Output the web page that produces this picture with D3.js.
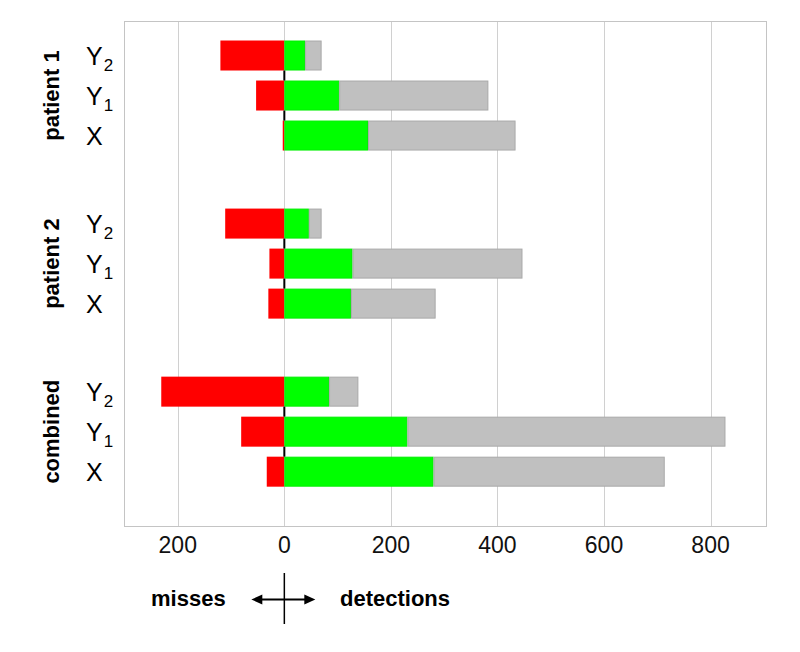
<!DOCTYPE html>
<html>
<head>
<meta charset="utf-8">
<script src="https://cdn.jsdelivr.net/npm/d3@7"></script>
<style>
  body { margin: 0; background: #fff; }
  text { font-family: "Liberation Sans", Arial, sans-serif; }
</style>
</head>
<body>
<svg id="chart" width="800" height="652"></svg>
<script>
// groups, top to bottom
var groups = ["patient 1", "patient 2", "combined"];
// rows inside each group: [letter, subscript]
var rows = [["Y", "2"], ["Y", "1"], ["X", ""]];

// values per group, in row order Y2, Y1, X
var misses   = [[120, 53, 3], [111, 28, 30], [231, 81, 33]];
var detected = [[39, 103, 157], [46, 128, 125], [84, 231, 280]];
var other    = [[31, 280, 277], [24, 319, 159], [55, 597, 434]];

var xTicks = [-200, 0, 200, 400, 600, 800];

var svg = d3.select('#chart');
var plotLeft = 124.5, plotRight = 766.5, plotTop = 21.5, plotBottom = 526.5;
var groupStep = 4.2; // rows + spacing between groups

var x = d3.scaleLinear().domain([-300, 905]).range([plotLeft, plotRight]);
var y = d3.scaleLinear().domain([-0.85, 11.77]).range([plotTop, plotBottom]);
var barH = 30;

var data = [];
groups.forEach(function(g, gi) {
  rows.forEach(function(r, ri) {
    data.push({
      group: gi, row: ri, slot: gi * groupStep + ri,
      miss: misses[gi][ri], detected: detected[gi][ri], other: other[gi][ri]
    });
  });
});

var stacked = d3.stack().keys(['detected', 'other'])(data);
var colors = { detected: '#00ff00', other: '#c0c0c0' };
var strokes = { detected: '#00ee00', other: '#a9a9a9' };

// grid lines
svg.append('g').selectAll('line').data(xTicks).join('line')
  .attr('x1', function(d) { return Math.round(x(d)) + 0.5; })
  .attr('x2', function(d) { return Math.round(x(d)) + 0.5; })
  .attr('y1', plotTop).attr('y2', plotBottom)
  .attr('stroke', '#d0d0d0').attr('stroke-width', 1);

// frame
svg.append('rect')
  .attr('x', plotLeft).attr('y', plotTop)
  .attr('width', plotRight - plotLeft).attr('height', plotBottom - plotTop)
  .attr('fill', 'none').attr('stroke', '#c4c4c4');

// misses (negative side)
svg.append('g').selectAll('rect').data(data).join('rect')
  .attr('x', function(d) { return x(-d.miss); })
  .attr('width', function(d) { return x(0) - x(-d.miss); })
  .attr('y', function(d) { return y(d.slot) - barH / 2; })
  .attr('height', barH)
  .attr('fill', '#ff0000');

// detections, stacked
svg.append('g').selectAll('g').data(stacked).join('g')
  .attr('fill', function(s) { return colors[s.key]; })
  .attr('stroke', function(s) { return strokes[s.key]; })
  .selectAll('rect').data(function(s) { return s; }).join('rect')
  .attr('x', function(d) { return x(d[0]) + 0.5; })
  .attr('width', function(d) { return Math.max(0, x(d[1]) - x(d[0]) - 1); })
  .attr('y', function(d) { return y(d.data.slot) - barH / 2 + 0.5; })
  .attr('height', barH - 1);

// black zero line in the gaps between bars
svg.append('g').selectAll('line').data(data.filter(function(d) { return d.row < 2; })).join('line')
  .attr('x1', x(0)).attr('x2', x(0))
  .attr('y1', function(d) { return y(d.slot) + barH / 2; })
  .attr('y2', function(d) { return y(d.slot + 1) - barH / 2; })
  .attr('stroke', '#000').attr('stroke-width', 2);

// x tick labels
svg.append('g').selectAll('text').data(xTicks).join('text')
  .attr('x', function(d) { return x(d); })
  .attr('y', 553)
  .attr('text-anchor', 'middle')
  .attr('font-size', 23)
  .attr('fill', '#111')
  .text(function(d) { return Math.abs(d); });

// row labels
var rl = svg.append('g').selectAll('text').data(data).join('text')
  .attr('x', 86)
  .attr('y', function(d) { return y(d.slot) + 9; })
  .attr('font-size', 25)
  .attr('fill', '#000');
rl.append('tspan').text(function(d) { return rows[d.row][0]; });
rl.append('tspan')
  .attr('font-size', 17).attr('dy', 6).attr('dx', 1)
  .text(function(d) { return rows[d.row][1]; });

// group labels
svg.append('g').selectAll('text').data(groups).join('text')
  .attr('transform', function(d, i) {
    return 'translate(59,' + y(i * groupStep + 1) + ') rotate(-90)';
  })
  .attr('text-anchor', 'middle')
  .attr('font-size', 22)
  .attr('font-weight', 'bold')
  .text(function(d) { return d; });

// misses / detections legend under the axis
var cx = x(0), cy = 599.5;
svg.append('text').attr('x', 151).attr('y', 606)
  .attr('font-size', 22).attr('font-weight', 'bold').text('misses');
svg.append('text').attr('x', 340).attr('y', 606)
  .attr('font-size', 22).attr('font-weight', 'bold').text('detections');
svg.append('line').attr('x1', cx).attr('x2', cx).attr('y1', 573).attr('y2', 624)
  .attr('stroke', '#000').attr('stroke-width', 1.5);
svg.append('line').attr('x1', cx - 28).attr('x2', cx + 26).attr('y1', cy).attr('y2', cy)
  .attr('stroke', '#000').attr('stroke-width', 2);
svg.append('path')
  .attr('d', 'M' + (cx - 33) + ',' + cy + 'L' + (cx - 22) + ',' + (cy - 5) + 'L' + (cx - 22) + ',' + (cy + 5) + 'Z')
  .attr('fill', '#000');
svg.append('path')
  .attr('d', 'M' + (cx + 31) + ',' + cy + 'L' + (cx + 20) + ',' + (cy - 5) + 'L' + (cx + 20) + ',' + (cy + 5) + 'Z')
  .attr('fill', '#000');
</script>
</body>
</html>
